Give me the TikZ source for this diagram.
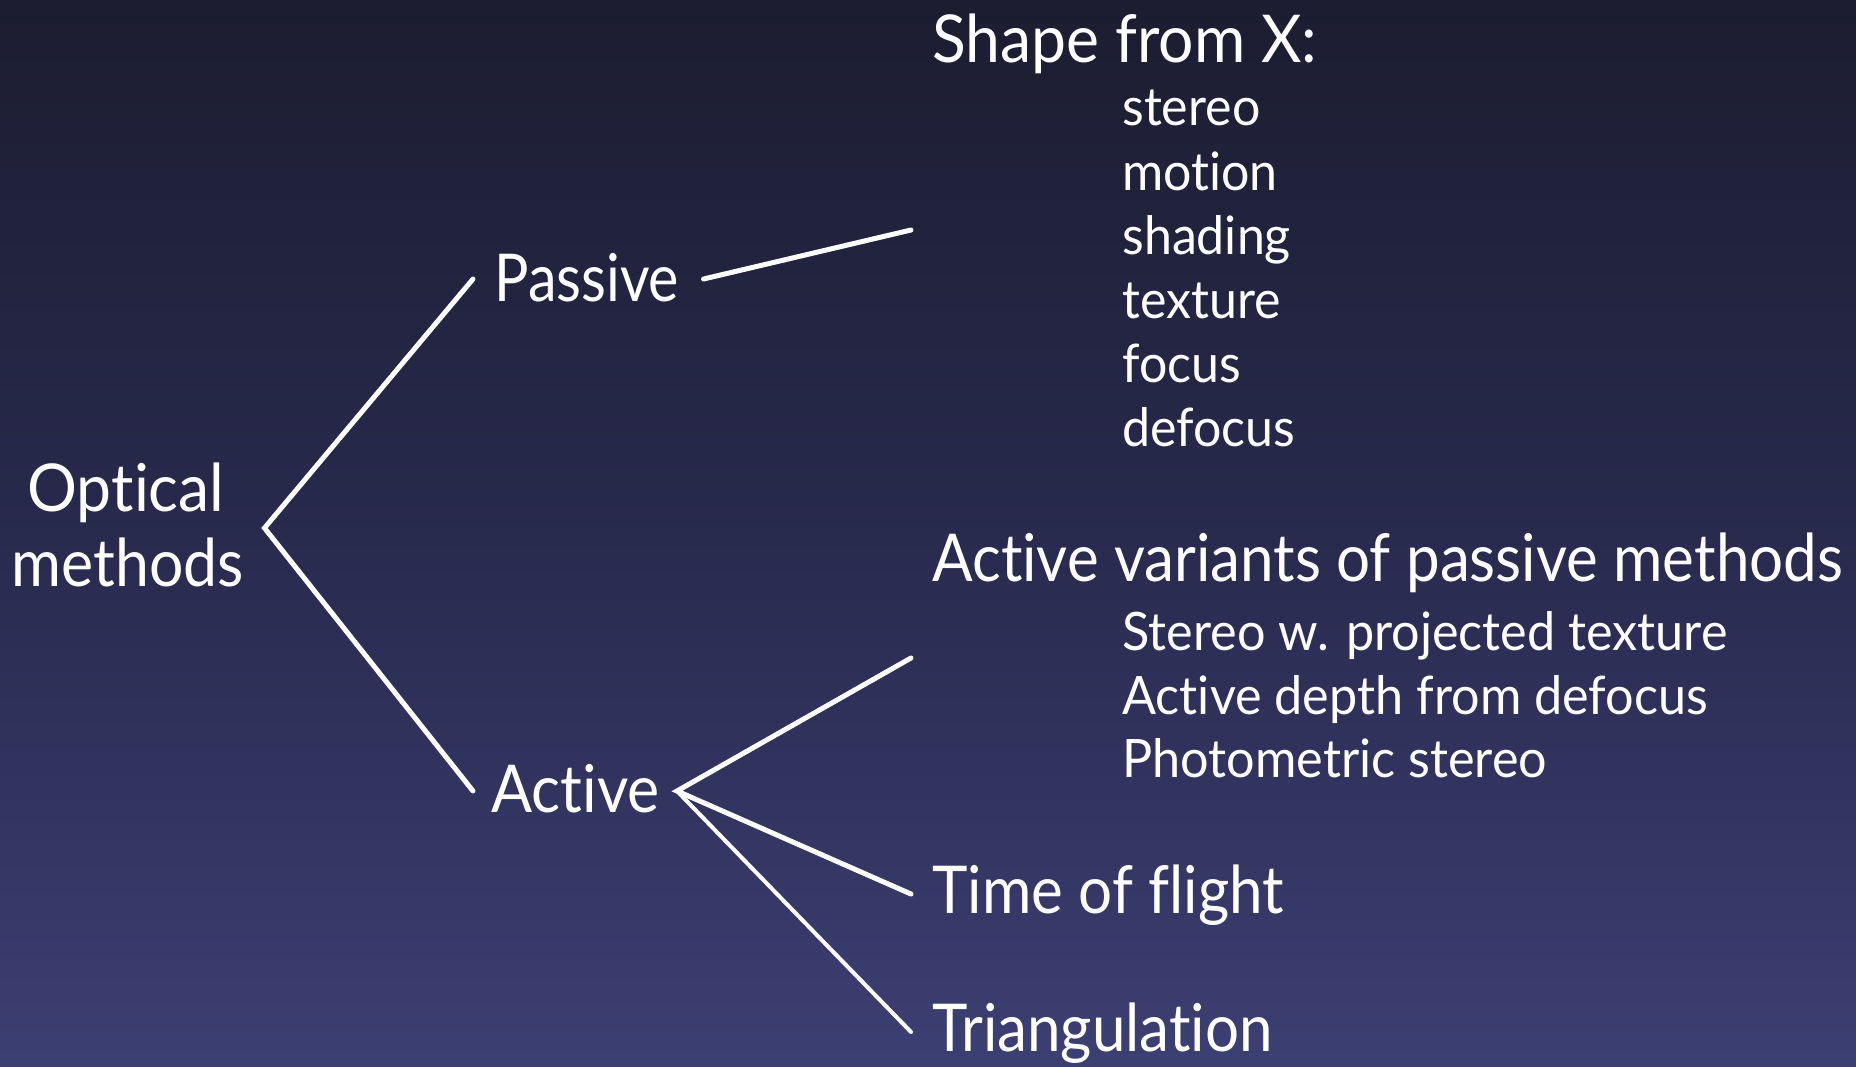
\documentclass[tikz,border=0pt]{standalone}
\usepackage{fontspec}
\setmainfont{Lato}[Ligatures=NoCommon]
\newfontfamily\fsA{Lato}[FakeStretch=0.87, Ligatures=NoCommon]
\newfontfamily\fsB{Lato}[FakeStretch=0.92, Ligatures=NoCommon]
\newfontfamily\fsC{Lato}[FakeStretch=0.945, Ligatures=NoCommon]
\newfontfamily\fsD{Lato}[FakeStretch=0.91, Ligatures=NoCommon]
\newfontfamily\fsE{Lato}[FakeStretch=0.95, Ligatures=NoCommon]
\usetikzlibrary{calc}
\definecolor{bgtop}{HTML}{1C1D30}
\definecolor{bgmid}{HTML}{282A4E}
\definecolor{bgbot}{HTML}{3C3F72}
\tikzset{
  txt/.style={inner sep=0pt, text=white, anchor=base west},
  big/.style={txt, font=\fontsize{33}{36}\selectfont},
  small/.style={txt, font=\fontsize{26.5}{30}\selectfont},
  branch/.style={draw=white, line width=2.5pt, line cap=round, line join=miter},
  branchthin/.style={draw=white, line width=2pt, line cap=round},
}
\begin{document}
\begin{tikzpicture}[x=0.5pt,y=-0.5pt]
\useasboundingbox (0,0) rectangle (1856,1066);
\shade[top color=bgtop, bottom color=bgbot, middle color=bgmid] (0,0) rectangle (1856,1066);

% root
\node[big, anchor=base, font=\fsC\fontsize{33}{36}\selectfont] (opt1) at (126,511) {Optical};
\node[big, anchor=base, font=\fsB\fontsize{33}{36}\selectfont] (opt2) at (128,586) {methods};
\coordinate (root) at ($(opt2.base east)+(20,-58)$);

% level 1
\node[big, font=\fsA\fontsize{33}{36}\selectfont] (passive) at (494,301) {Passive};
\node[big, font=\fsB\fontsize{33}{36}\selectfont] (active) at (491,812) {Active};

% passive branch
\node[big, font=\fsC\fontsize{33}{36}\selectfont] (sfx) at (932,62) {Shape from X:};
\tikzset{slist/.style={small, font=\fsC\fontsize{26.5}{30}\selectfont}}
\node[slist] (s1) at (1122,125) {stereo};
\node[slist] (s2) at (1122,190) {motion};
\node[slist] (s3) at (1122,254) {shading};
\node[slist] (s4) at (1122,318) {texture};
\node[slist] (s5) at (1122,382) {focus};
\node[slist] (s6) at (1122,446) {defocus};

% active branch
\tikzset{bigc/.style={big, font=\fsD\fontsize{33}{36}\selectfont},
         alist/.style={small, font=\fsE\fontsize{26.5}{30}\selectfont}}
\node[bigc] (avp) at (932,581) {Active variants of passive methods};
\node[alist] (a1) at (1122,650) {Stereo w. projected texture};
\node[alist] (a2) at (1122,714) {Active depth from defocus};
\node[alist] (a3) at (1122,777) {Photometric stereo};
\node[bigc] (tof) at (932,913) {Time of flight};
\node[bigc] (tri) at (932,1051) {Triangulation};

% connector end points
\coordinate (pin) at ($(passive.base west)+(-21,-22)$);
\coordinate (pout) at ($(passive.base east)+(24,-22)$);
\coordinate (sfxin) at ($(s3.base west)+(-211,-24)$);
\coordinate (ain) at ($(active.base west)+(-18,-21)$);
\coordinate (aout) at ($(active.base west)+(186,-21)$);
\coordinate (avpin) at ($(a1.base west)+(-211,8)$);
\coordinate (tofin) at ($(tof.base west)+(-21,-19)$);
\coordinate (triin) at ($(tri.base west)+(-21,-19)$);

\draw[branch] (pin) -- (root) -- (ain);
\draw[branch] (pout) -- (sfxin);
\draw[branch] (avpin) -- (aout) -- (tofin);
\draw[branchthin] (aout) -- (triin);
\end{tikzpicture}
\end{document}
